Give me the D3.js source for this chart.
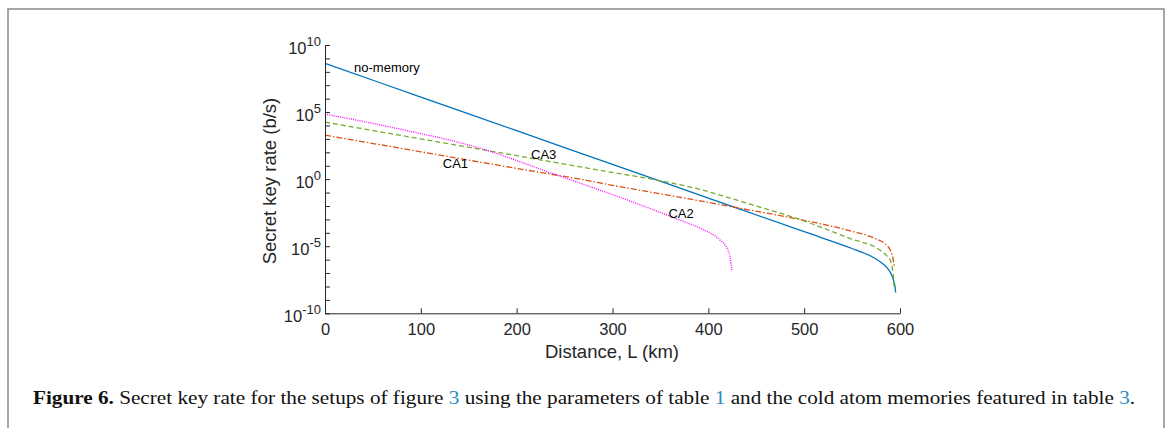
<!DOCTYPE html>
<html>
<head>
<meta charset="utf-8">
<script src="https://cdn.jsdelivr.net/npm/d3@7"></script>
<style>
  body { margin: 0; background: #fff; }
  svg { display: block; }
</style>
</head>
<body>
<svg width="1169" height="428"></svg>
<script>
// distances (km) and log10 of key rate (b/s)
const noMemoryL   = [0, 100, 200, 300, 400, 500, 550, 565, 575, 582, 587, 591, 593.5, 595, 595.5];
const noMemoryExp = [8.63, 6.12, 3.61, 1.10, -1.41, -3.92, -5.17, -5.58, -5.95, -6.3, -6.65, -7.1, -7.6, -8.1, -8.45];

const ca1L   = [0, 100, 200, 266, 300, 391.4, 443.6, 495.8, 548, 575, 584, 589.5, 592.4, 594];
const ca1Exp = [3.28, 2.04, 0.80, 0.0, -0.46, -1.62, -2.31, -3.01, -3.85, -4.45, -4.8, -5.25, -5.82, -6.49];

const ca3L   = [0, 100, 200, 300, 346.6, 391.4, 443.6, 495.8, 548, 579.3, 586, 589.8, 592.9, 594];
const ca3Exp = [4.25, 3.00, 1.75, 0.50, -0.07, -0.77, -1.87, -3.01, -4.43, -5.30, -5.7, -6.04, -7.16, -8.13];

const ca2L   = [0, 78.3, 157.6, 245.3, 287, 370.6, 391.4, 412.3, 419.6, 422.8, 424.5];
const ca2Exp = [4.85, 3.73, 2.39, 0.22, -0.82, -3.06, -3.66, -4.55, -5.15, -5.82, -6.87];

const xTicks = [0, 100, 200, 300, 400, 500, 600];
const yLabelExp = [-10, -5, 0, 5, 10];

const curveLabels = [
  { text: 'no-memory', L: 30.3, exp: 7.99 },
  { text: 'CA1', L: 122.9, exp: 0.82 },
  { text: 'CA3', L: 215, exp: 1.49 },
  { text: 'CA2', L: 358.4, exp: -2.91 }
];

const series = [
  { L: noMemoryL, exp: noMemoryExp, color: '#0072BD', dash: null },
  { L: ca1L, exp: ca1Exp, color: '#D95319', dash: '6,2,1.5,2' },
  { L: ca3L, exp: ca3Exp, color: '#77AC30', dash: '5,3' },
  { L: ca2L, exp: ca2Exp, color: '#FF00FF', dash: '1,1.2' }
];

const svg = d3.select('svg');
const axisColor = '#262626';
const font = 'Liberation Sans, Arial, Helvetica, sans-serif';

// page frame
svg.append('path')
  .attr('d', 'M8,428 V9 H1164 V428')
  .attr('fill', 'none')
  .attr('stroke', '#8a8a8a')
  .attr('stroke-width', 1.5);

const x = d3.scaleLinear().domain([0, 600]).range([325, 900]);
const y = d3.scaleLog().domain([1e-10, 1e10]).range([313.3, 45]);

const line = d3.line()
  .x(d => x(d[0]))
  .y(d => y(Math.pow(10, d[1])))
  .curve(d3.curveMonotoneX);

const lines = svg.append('g');
series.forEach(s => {
  lines.append('path')
    .attr('d', line(s.L.map((l, i) => [l, s.exp[i]])))
    .attr('fill', 'none')
    .attr('stroke', s.color)
    .attr('stroke-width', 1.3)
    .attr('stroke-dasharray', s.dash);
});

// x axis
const xAxis = svg.append('g')
  .attr('transform', `translate(0, ${y(1e-10)})`)
  .call(d3.axisBottom(x).tickValues(xTicks).tickSizeInner(-5).tickSizeOuter(0).tickPadding(10));
xAxis.selectAll('text').attr('font-size', 16.5).attr('font-family', font).attr('fill', axisColor);

// y axis, a tick every decade
const yAxis = svg.append('g')
  .attr('transform', `translate(${x(0)}, 0)`)
  .call(d3.axisLeft(y).tickValues(d3.range(-10, 11).map(e => Math.pow(10, e)))
    .tickSizeInner(-5).tickSizeOuter(0).tickFormat(''));

[xAxis, yAxis].forEach(a => {
  a.select('.domain').attr('stroke', axisColor).attr('stroke-width', 1);
  a.selectAll('.tick line').attr('stroke', axisColor).attr('stroke-width', 1);
});

const yLab = svg.append('g')
  .attr('font-family', font)
  .attr('fill', axisColor)
  .attr('text-anchor', 'end');
yLabelExp.forEach(e => {
  const t = yLab.append('text')
    .attr('x', 321)
    .attr('y', y(Math.pow(10, e)) + 8.5)
    .attr('font-size', 16.5);
  t.append('tspan').text('10');
  t.append('tspan').attr('font-size', 13).attr('dy', -7.5).text(e < 0 ? '-' + (-e) : e);
});

// axis titles
svg.append('text')
  .attr('x', 612).attr('y', 358)
  .attr('text-anchor', 'middle')
  .attr('font-family', font).attr('font-size', 18.5)
  .attr('fill', axisColor)
  .text('Distance, L (km)');

svg.append('text')
  .attr('transform', 'translate(276, 181) rotate(-90)')
  .attr('text-anchor', 'middle')
  .attr('font-family', font).attr('font-size', 18.5)
  .attr('fill', axisColor)
  .text('Secret key rate (b/s)');

// curve labels
svg.append('g')
  .selectAll('text')
  .data(curveLabels)
  .join('text')
  .attr('x', d => x(d.L))
  .attr('y', d => y(Math.pow(10, d.exp)))
  .attr('font-family', font).attr('font-size', 13)
  .attr('fill', '#000')
  .text(d => d.text);

// caption
const link = '#2b8bc4';
const cap = svg.append('text')
  .attr('font-family', 'Liberation Serif, Times New Roman, serif')
  .attr('font-size', 18)
  .attr('fill', '#111');
cap.append('tspan').attr('font-weight', 'bold').text('Figure 6.');
cap.append('tspan').text(' Secret key rate for the setups of figure ');
cap.append('tspan').attr('fill', link).text('3');
cap.append('tspan').text(' using the parameters of table ');
cap.append('tspan').attr('fill', link).text('1');
cap.append('tspan').text(' and the cold atom memories featured in table ');
cap.append('tspan').attr('fill', link).text('3');
cap.append('tspan').text('.');
const capW = cap.node().getComputedTextLength();
cap.attr('transform', `translate(33, 404) scale(${1103 / capW}, 1)`);
</script>
</body>
</html>
